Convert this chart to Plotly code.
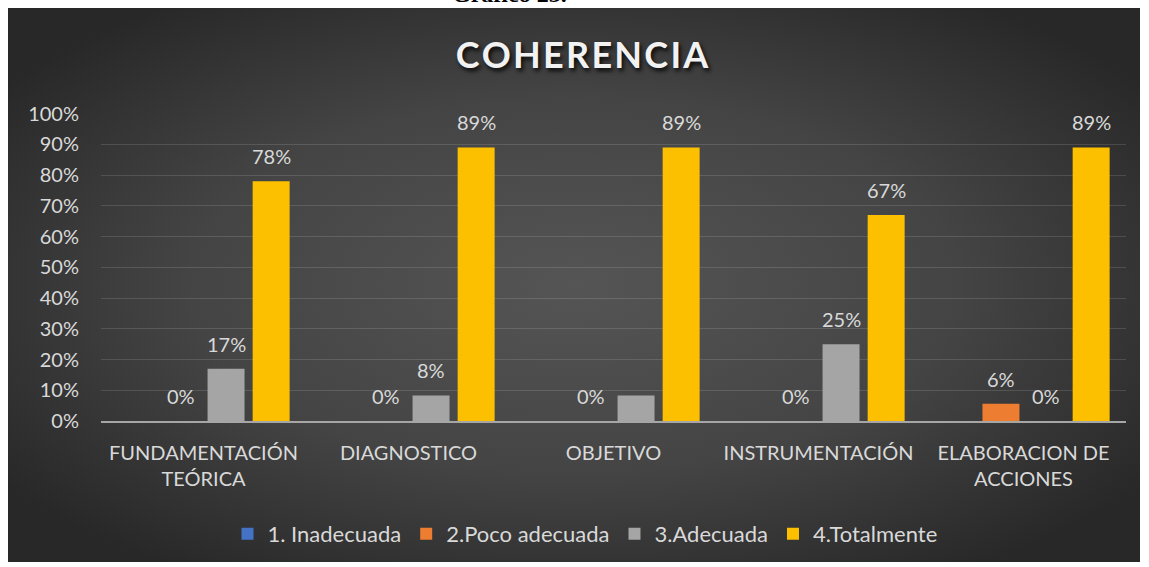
import base64
import plotly.graph_objects as go

# ---------------- data ----------------
categories = ["FUNDAMENTACIÓN<br>TEÓRICA", "DIAGNOSTICO", "OBJETIVO",
              "INSTRUMENTACIÓN", "ELABORACION DE<br>ACCIONES"]
series_names = ["1. Inadecuada", "2.Poco adecuada", "3.Adecuada", "4.Totalmente"]
inadecuada = [0, 0, 0, 0, 0]
poco_adecuada = [0, 0, 0, 0, 0.056]
adecuada = [0.17, 0.083, 0.083, 0.25, 0]
totalmente = [0.78, 0.89, 0.89, 0.67, 0.89]
inadecuada_labels = ["", "", "", "", ""]
poco_adecuada_labels = ["0%", "0%", "0%", "0%", "6%"]
adecuada_labels = ["17%", "8%", "", "25%", "0%"]
totalmente_labels = ["78%", "89%", "89%", "67%", "89%"]
y_ticks = [0, 0.1, 0.2, 0.3, 0.4, 0.5, 0.6, 0.7, 0.8, 0.9, 1.0]
y_tick_labels = ["0%", "10%", "20%", "30%", "40%", "50%", "60%", "70%", "80%", "90%", "100%"]

# ---------------- style ----------------
W, H = 1149, 567
L, R, T, B = 101, 23, 113, 146
BARGAP = 0.12
BARGROUPGAP = 0.18
colors = ["#4472c4", "#ed7d31", "#a5a5a5", "#fcc000"]
FONT = "Lato"
TXT = "#d9d9d9"

values = [inadecuada, poco_adecuada, adecuada, totalmente]
labels = [inadecuada_labels, poco_adecuada_labels, adecuada_labels, totalmente_labels]

fig = go.Figure()
for name, vals, col in zip(series_names, values, colors):
    fig.add_trace(go.Bar(x=categories, y=vals, name=name,
                         marker=dict(color=col, line=dict(width=0))))

# data labels placed above each bar through the axes
plot_w = W - L - R
plot_h = H - T - B
cat_px = plot_w / len(categories)
slot = cat_px * (1 - BARGAP) / len(series_names)
annotations = []
for si, (vals, labs) in enumerate(zip(values, labels)):
    off = (si - (len(series_names) - 1) / 2) * slot
    for cat, v, lab in zip(categories, vals, labs):
        if lab:
            annotations.append(dict(x=cat, y=v, xref="x", yref="y", text=lab,
                                    showarrow=False, xshift=off, yshift=11,
                                    yanchor="bottom", xanchor="center",
                                    font=dict(family=FONT, size=20, color=TXT)))

# cut-off caption above the chart box (cut off in the source image too)
annotations.append(dict(x=(509 - L) / plot_w, y=(H - B - 9) / plot_h, xref="paper", yref="paper",
                        text="<b>Gráfico 23.</b>", showarrow=False, yanchor="bottom",
                        font=dict(family="Liberation Serif", size=24, color="#000000")))

# dark radial-gradient chart box
svg = ('<svg xmlns="http://www.w3.org/2000/svg" width="1132" height="554" '
       'viewBox="0 0 1132 554" preserveAspectRatio="none">'
       '<defs><radialGradient id="g" cx="50%" cy="50%" r="62%">'
       '<stop offset="0" stop-color="#555555"/>'
       '<stop offset="0.55" stop-color="#444444"/>'
       '<stop offset="1" stop-color="#282828"/>'
       '</radialGradient></defs>'
       '<rect width="1132" height="554" fill="url(#g)"/></svg>')
src = "data:image/svg+xml;base64," + base64.b64encode(svg.encode()).decode()
bx0, by0, bx1, by1 = 8, 8, 1140, 562

title_text = "\u200a".join("COHERENCIA")

fig.update_layout(
    width=W, height=H, template="none",
    margin=dict(l=L, r=R, t=T, b=B, autoexpand=False),
    paper_bgcolor="#ffffff", plot_bgcolor="rgba(0,0,0,0)",
    barmode="group", bargap=BARGAP, bargroupgap=BARGROUPGAP,
    font=dict(family=FONT, color=TXT),
    title=dict(text="<b>" + title_text + "</b>", x=582 / W, y=1 - 55 / H, xanchor="center",
               yanchor="middle", xref="container", yref="container",
               font=dict(family=FONT, size=36, color="#f2f2f2",
                         shadow="2px 3px 4px rgba(0,0,0,0.85)")),
    images=[dict(source=src, xref="paper", yref="paper",
                 x=(bx0 - L) / plot_w, y=(H - B - by0) / plot_h,
                 sizex=(bx1 - bx0) / plot_w, sizey=(by1 - by0) / plot_h,
                 xanchor="left", yanchor="top", sizing="stretch", layer="below")],
    legend=dict(orientation="h", x=(585 - L) / plot_w, y=(H - B - 534) / plot_h,
                xanchor="center", yanchor="middle", bgcolor="rgba(0,0,0,0)",
                font=dict(family=FONT, size=22, color=TXT), itemwidth=30,
                traceorder="normal"),
    showlegend=True,
    annotations=annotations,
)
fig.update_xaxes(showgrid=False, showline=True, linecolor="#a6a6a6", linewidth=2,
                 ticks="", tickfont=dict(family=FONT, size=20, color=TXT),
                 ticklabelstandoff=13, automargin=False, zeroline=False)
fig.update_yaxes(range=[0, 1.002], tickvals=y_ticks, ticktext=y_tick_labels,
                 showgrid=True, gridcolor="rgba(255,255,255,0.13)", gridwidth=1,
                 zeroline=False, showline=False, ticks="",
                 tickfont=dict(family=FONT, size=20, color=TXT),
                 ticklabelstandoff=21, automargin=False)

fig.write_html("out.html", config={"displayModeBar": False},
               post_script="document.body.style.margin='0';")
